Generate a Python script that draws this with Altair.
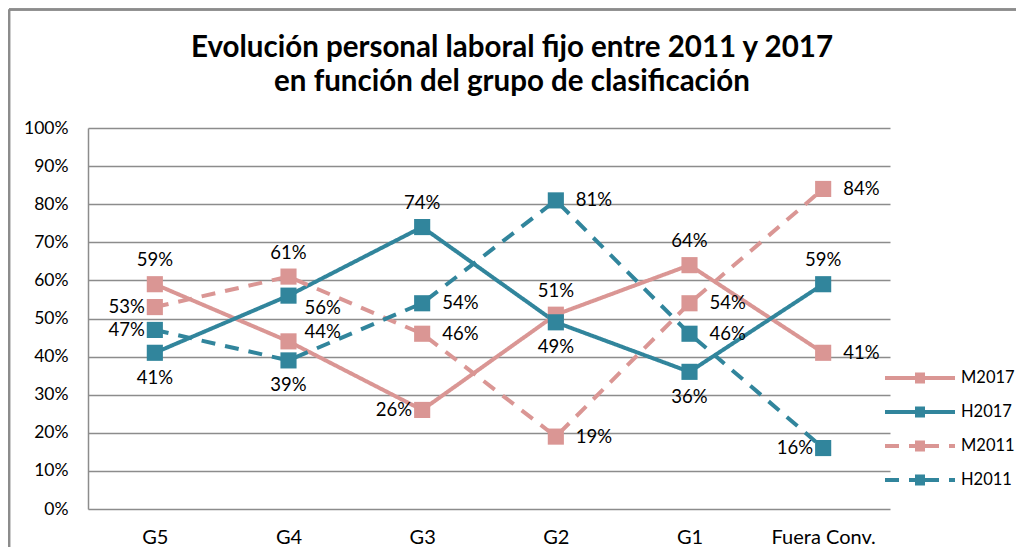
import altair as alt
import pandas as pd

title_lines = ["Evolución personal laboral fijo entre 2011 y 2017",
               "en función del grupo de clasificación"]
categories = ["G5", "G4", "G3", "G2", "G1", "Fuera Conv."]
series = ["M2017", "H2017", "M2011", "H2011"]
m2017 = [0.59, 0.44, 0.26, 0.51, 0.64, 0.41]
h2017 = [0.41, 0.56, 0.74, 0.49, 0.36, 0.59]
m2011 = [0.53, 0.61, 0.46, 0.19, 0.54, 0.84]
h2011 = [0.47, 0.39, 0.54, 0.81, 0.46, 0.16]
# label placement codes: t=top, b=bottom, l=left, r=right, rb=right-below, rt=right-above
pos_m2017 = ["t", "rt", "l", "t", "t", "r"]
pos_h2017 = ["b", "rb", "t", "b", "b", "t"]
pos_m2011 = ["l", "t", "r", "r", "r", "r"]
pos_h2011 = ["l", "b", "r", "r", "r", "l"]

colors = ["#DA9694", "#31859C", "#DA9694", "#31859C"]
dashes = [[1, 0], [1, 0], [14, 10], [14, 10]]

rows = []
for s, vals, poss in zip(series, [m2017, h2017, m2011, h2011],
                         [pos_m2017, pos_h2017, pos_m2011, pos_h2011]):
    for c, v, p in zip(categories, vals, poss):
        rows.append({"cat": c, "serie": s, "val": v, "pos": p})
df = pd.DataFrame(rows)
title_df = pd.DataFrame({"line": title_lines, "row": list(range(len(title_lines)))})

FONT = "Lato"
GRAY = "#8C8C8C"

x = alt.X("cat:N", sort=categories, title=None,
          scale=alt.Scale(type="point", padding=0.5),
          axis=alt.Axis(labelAngle=0, labelFontSize=20, labelColor="#000",
                        labelFont=FONT, domain=False, ticks=False,
                        labelPadding=18, grid=False))
y = alt.Y("val:Q", title=None,
          scale=alt.Scale(domain=[0, 1], nice=False),
          axis=alt.Axis(format=".0%", values=[i / 10 for i in range(11)],
                        labelFontSize=17.5, labelColor="#000", labelFont=FONT,
                        grid=True, gridColor=GRAY, gridWidth=1.5,
                        domain=True, domainColor=GRAY, domainWidth=1.5,
                        ticks=False, labelPadding=20))

# legend glyph: line segment, small square (drawn as stacked strokes), line segment
legend_symbol = ("M-6.4,0H-3.4M-2.4,0H0.6"
                 "M-3.4,-0.35H-2.4M-3.4,0H-2.4M-3.4,0.35H-2.4")
color = alt.Color("serie:N", sort=series, title=None,
                  scale=alt.Scale(domain=series, range=colors),
                  legend=alt.Legend(orient="none", legendX=849, legendY=238,
                                    padding=0,
                                    symbolType=legend_symbol, symbolStrokeWidth=4,
                                    symbolSize=400, labelFontSize=16.5,
                                    labelFont=FONT, labelColor="#000",
                                    rowPadding=10, labelOffset=0))
dash = alt.StrokeDash("serie:N", sort=series,
                      scale=alt.Scale(domain=series, range=dashes),
                      legend=None)

base = alt.Chart(df)

lines = base.mark_line(strokeWidth=4).encode(x=x, y=y, color=color, strokeDash=dash)
points = base.mark_point(shape="square", filled=True, size=260, opacity=1).encode(
    x=x, y=y,
    color=alt.Color("serie:N", scale=alt.Scale(domain=series, range=colors), legend=None))

offsets = {
    "t": dict(dx=0, dy=-24, align="center"),
    "b": dict(dx=0, dy=25, align="center"),
    "l": dict(dx=-10, dy=0, align="right"),
    "r": dict(dx=20, dy=0, align="left"),
    "rb": dict(dx=16, dy=12, align="left"),
    "rt": dict(dx=16, dy=-9, align="left"),
}
texts = []
for code, o in offsets.items():
    texts.append(
        base.transform_filter(alt.datum.pos == code)
        .mark_text(fontSize=18.5, font=FONT, color="#000", baseline="middle", **o)
        .encode(x=x, y=y, text=alt.Text("val:Q", format=".0%"))
    )

title_layers = []
for i in range(len(title_lines)):
    title_layers.append(
        alt.Chart(title_df).transform_filter(alt.datum.row == i).mark_text(
            fontSize=29.5, font=FONT, fontWeight="bold", color="#000",
            align="center", baseline="middle").encode(
            x=alt.value(424), y=alt.value(-80 + 34 * i), text="line:N")
    )

# outer chart frame (decoration)
frame_top = alt.Chart(title_df).mark_rule(color=GRAY, strokeWidth=2.5).encode(
    x=alt.value(-79), x2=alt.value(940), y=alt.value(-118.5))
frame_left = alt.Chart(title_df).mark_rule(color=GRAY, strokeWidth=2.5).encode(
    x=alt.value(-79), y=alt.value(-118.5), y2=alt.value(460))

chart = alt.layer(frame_top, frame_left, *title_layers, lines, points, *texts).properties(
    width=802, height=381,
    autosize=alt.AutoSizeParams(type="none"),
    padding={"left": 80, "top": 120, "right": 126, "bottom": 38},
).configure_view(stroke=None)

chart.save("out.html", embed_options={"renderer": "svg", "actions": False})
